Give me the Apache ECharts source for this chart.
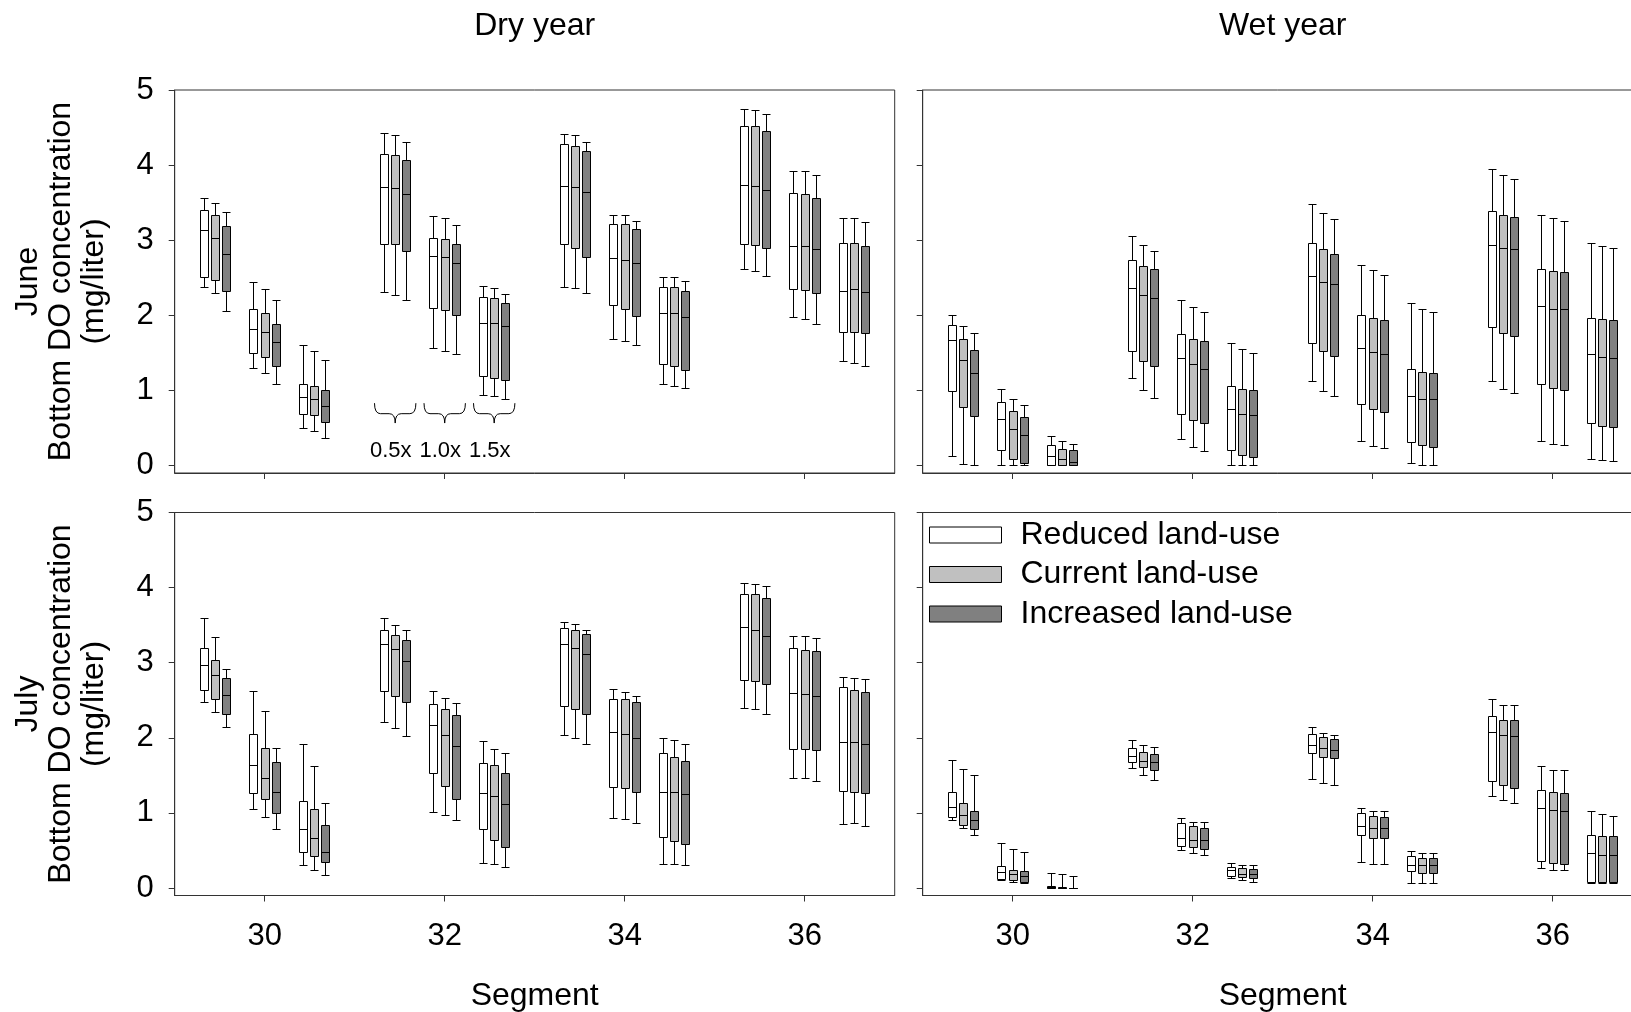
<!DOCTYPE html>
<html>
<head>
<meta charset="utf-8">
<script src="https://cdn.jsdelivr.net/npm/echarts@6/dist/echarts.min.js"></script>
<style>
html,body{margin:0;padding:0;background:#fff;}
#chart{width:1631px;height:1012px;}
</style>
</head>
<body>
<div id="chart"></div>
<script>
// ---------------- DATA ----------------
const seriesNames = ['Reduced land-use', 'Current land-use', 'Increased land-use'];
const xTicks = [30, 32, 34, 36];
const yTicks = [0, 1, 2, 3, 4, 5];
// box-group positions along the Segment axis
const groupX = [29.45, 30, 30.55, 31.45, 32, 32.55, 33.45, 34, 34.55, 35.45, 36, 36.55];
// each box: [upper whisker, Q3, median, Q1, lower whisker]  (mg/liter)
const dryJuneReduced = [
 [3.56,3.40,3.14,2.51,2.38],[2.44,2.08,1.82,1.50,1.30],[1.60,1.08,0.91,0.69,0.50],
 [4.43,4.15,3.71,2.95,2.31],[3.32,3.03,2.79,2.10,1.56],[2.39,2.24,1.90,1.19,0.94],
 [4.42,4.28,3.72,2.95,2.38],[3.33,3.22,2.76,2.14,1.68],[2.51,2.38,2.03,1.35,1.08],
 [4.75,4.52,3.73,2.95,2.62],[3.92,3.63,2.92,2.35,1.98],[3.29,2.96,2.33,1.78,1.39]];
const dryJuneCurrent = [
 [3.50,3.33,3.03,2.47,2.30],[2.35,2.03,1.78,1.44,1.23],[1.52,1.06,0.88,0.67,0.46],
 [4.40,4.14,3.69,2.95,2.27],[3.29,3.01,2.77,2.07,1.53],[2.36,2.23,1.90,1.16,0.92],
 [4.40,4.26,3.71,2.89,2.36],[3.33,3.21,2.74,2.08,1.66],[2.51,2.38,2.03,1.33,1.06],
 [4.74,4.52,3.72,2.94,2.59],[3.92,3.62,2.92,2.34,1.95],[3.29,2.96,2.35,1.78,1.37]];
const dryJuneIncreased = [
 [3.37,3.19,2.82,2.33,2.06],[2.21,1.88,1.65,1.32,1.08],[1.40,1.00,0.79,0.58,0.36],
 [4.31,4.07,3.62,2.86,2.20],[3.20,2.95,2.69,2.01,1.48],[2.29,2.16,1.86,1.14,0.88],
 [4.31,4.19,3.64,2.77,2.30],[3.25,3.15,2.69,1.99,1.61],[2.46,2.32,1.98,1.27,1.03],
 [4.68,4.45,3.67,2.89,2.52],[3.87,3.56,2.88,2.30,1.89],[3.24,2.92,2.31,1.76,1.32]];
const wetJuneReduced = [
 [2.00,1.87,1.67,0.99,0.12],[1.02,0.84,0.62,0.21,0.00],[0.39,0.27,0.13,0.00,0.00],
 [3.06,2.74,2.36,1.53,1.16],[2.20,1.75,1.43,0.69,0.35],[1.63,1.06,0.75,0.20,0.00],
 [3.48,2.96,2.52,1.63,1.12],[2.67,2.01,1.56,0.82,0.32],[2.16,1.28,0.92,0.31,0.03],
 [3.95,3.39,2.93,1.84,1.12],[3.34,2.62,2.12,1.08,0.33],[2.96,1.96,1.48,0.56,0.08]];
const wetJuneCurrent = [
 [1.86,1.68,1.41,0.78,0.02],[0.89,0.72,0.48,0.09,0.00],[0.32,0.22,0.08,0.00,0.00],
 [2.93,2.66,2.27,1.39,1.00],[2.11,1.69,1.35,0.60,0.24],[1.55,1.02,0.69,0.14,0.00],
 [3.36,2.88,2.45,1.52,0.99],[2.60,1.96,1.51,0.75,0.26],[2.09,1.24,0.89,0.27,0.00],
 [3.87,3.34,2.90,1.77,1.02],[3.29,2.59,2.09,1.03,0.28],[2.92,1.95,1.45,0.53,0.07]];
const wetJuneIncreased = [
 [1.77,1.54,1.23,0.66,0.00],[0.80,0.64,0.41,0.03,0.00],[0.29,0.20,0.04,0.00,0.00],
 [2.86,2.61,2.23,1.32,0.90],[2.04,1.66,1.29,0.56,0.19],[1.50,1.00,0.67,0.11,0.00],
 [3.28,2.81,2.42,1.46,0.92],[2.53,1.94,1.49,0.71,0.23],[2.04,1.23,0.88,0.24,0.00],
 [3.81,3.31,2.88,1.73,0.96],[3.26,2.57,2.08,1.00,0.27],[2.89,1.94,1.43,0.51,0.06]];
const dryJulyReduced = [
 [3.59,3.19,2.97,2.63,2.47],[2.62,2.05,1.64,1.27,1.05],[1.92,1.16,0.78,0.48,0.31],
 [3.59,3.43,3.25,2.62,2.21],[2.62,2.45,2.17,1.53,1.01],[1.96,1.67,1.27,0.79,0.33],
 [3.54,3.46,3.25,2.42,2.04],[2.65,2.52,2.08,1.35,0.93],[2.00,1.80,1.28,0.68,0.32],
 [4.06,3.92,3.47,2.77,2.40],[3.36,3.19,2.60,1.85,1.47],[2.81,2.67,1.94,1.29,0.85]];
const dryJulyCurrent = [
 [3.34,3.04,2.84,2.52,2.35],[2.36,1.87,1.46,1.19,0.94],[1.63,1.05,0.66,0.43,0.24],
 [3.50,3.37,3.18,2.56,2.13],[2.53,2.38,2.04,1.36,0.97],[1.85,1.64,1.23,0.64,0.32],
 [3.51,3.44,3.20,2.39,2.00],[2.61,2.51,2.05,1.33,0.92],[1.97,1.75,1.28,0.62,0.32],
 [4.05,3.92,3.43,2.76,2.38],[3.35,3.17,2.58,1.85,1.47],[2.79,2.63,1.95,1.28,0.86]];
const dryJulyIncreased = [
 [2.91,2.80,2.57,2.32,2.14],[1.86,1.68,1.28,1.00,0.79],[1.13,0.84,0.48,0.34,0.17],
 [3.44,3.30,3.02,2.48,2.02],[2.46,2.31,1.89,1.19,0.90],[1.80,1.53,1.12,0.55,0.28],
 [3.44,3.38,3.12,2.32,1.92],[2.56,2.47,2.00,1.28,0.87],[1.92,1.69,1.25,0.58,0.30],
 [4.02,3.86,3.35,2.72,2.32],[3.33,3.15,2.55,1.84,1.43],[2.78,2.61,1.92,1.27,0.83]];
const wetJulyReduced = [
 [1.71,1.28,1.08,0.95,0.91],[0.60,0.29,0.21,0.12,0.11],[0.20,0.02,0.01,0.00,0.00],
 [1.97,1.87,1.76,1.68,1.60],[0.93,0.86,0.67,0.56,0.50],[0.33,0.28,0.24,0.16,0.13],
 [2.14,2.05,1.90,1.80,1.45],[1.07,1.00,0.83,0.70,0.35],[0.49,0.43,0.31,0.22,0.07],
 [2.52,2.29,2.08,1.43,1.23],[1.63,1.31,1.06,0.36,0.26],[1.03,0.71,0.47,0.08,0.07]];
const wetJulyCurrent = [
 [1.59,1.13,0.97,0.84,0.80],[0.52,0.24,0.19,0.11,0.08],[0.18,0.01,0.00,0.00,0.00],
 [1.91,1.81,1.69,1.61,1.51],[0.88,0.82,0.64,0.54,0.46],[0.30,0.26,0.19,0.15,0.11],
 [2.07,2.01,1.86,1.75,1.40],[1.03,0.96,0.80,0.67,0.32],[0.46,0.40,0.31,0.20,0.06],
 [2.44,2.24,2.04,1.37,1.17],[1.57,1.28,1.04,0.33,0.24],[0.98,0.69,0.44,0.08,0.07]];
const wetJulyIncreased = [
 [1.50,1.03,0.91,0.79,0.71],[0.48,0.22,0.16,0.08,0.06],[0.16,0.00,0.00,0.00,0.00],
 [1.88,1.79,1.68,1.57,1.44],[0.88,0.80,0.64,0.52,0.44],[0.30,0.25,0.19,0.13,0.08],
 [2.04,1.99,1.84,1.73,1.37],[1.03,0.94,0.80,0.66,0.32],[0.46,0.40,0.31,0.20,0.06],
 [2.44,2.24,2.03,1.33,1.13],[1.57,1.27,1.03,0.32,0.24],[0.96,0.69,0.44,0.08,0.07]];
// nutrient-load annotation (dry June panel)
const braceX = [31.45, 32, 32.55];
const braceLabels = ['0.5x', '1.0x', '1.5x'];

// ---------------- STYLE / LAYOUT ----------------
const FONT = '"Liberation Sans", Arial, Helvetica, sans-serif';
const fills = ['#ffffff', '#c0c0c0', '#808080'];
const typeOffset = [-0.125, 0, 0.125];
const BOX_W = 0.096;
const AXIS_COLOR = '#333';
const GW = 720, GH = 383;
const panels = [
  {left: 174.7, top: 90,    data: [dryJuneReduced, dryJuneCurrent, dryJuneIncreased], xl: false, yl: true},
  {left: 922.7, top: 90,    data: [wetJuneReduced, wetJuneCurrent, wetJuneIncreased], xl: false, yl: false},
  {left: 174.7, top: 512.5, data: [dryJulyReduced, dryJulyCurrent, dryJulyIncreased], xl: true,  yl: true},
  {left: 922.7, top: 512.5, data: [wetJulyReduced, wetJulyCurrent, wetJulyIncreased], xl: true,  yl: false}
];

const chart = echarts.init(document.getElementById('chart'), null, {renderer: 'canvas'});

function makeBoxRender(fill) {
  return function (params, api) {
    const x = api.value(0);
    const c = v => api.coord([x, v]);
    const pHi = c(api.value(1)), pQ3 = c(api.value(2)), pMed = c(api.value(3)),
          pQ1 = c(api.value(4)), pLo = c(api.value(5));
    const w = api.size([BOX_W, 0])[0];
    const cx = Math.round(pHi[0]) + 0.5;
    const hw = Math.round(w / 2);
    const s = y => Math.round(y) + 0.5;
    const yHi = s(pHi[1]), yQ3 = s(pQ3[1]), yMed = s(pMed[1]), yQ1 = s(pQ1[1]), yLo = s(pLo[1]);
    const line = (x1, y1, x2, y2) => ({type: 'line', shape: {x1, y1, x2, y2}, style: {stroke: '#000', lineWidth: 1}});
    return {type: 'group', children: [
      line(cx, yHi, cx, yQ3), line(cx - hw, yHi, cx + hw, yHi),
      line(cx, yQ1, cx, yLo), line(cx - hw, yLo, cx + hw, yLo),
      {type: 'rect', shape: {x: cx - hw, y: yQ3, width: 2 * hw, height: yQ1 - yQ3},
       style: {fill: fill, stroke: '#000', lineWidth: 1}},
      line(cx - hw, yMed, cx + hw, yMed)
    ]};
  };
}

function braceRender(params, api) {
  const x = api.value(0);
  const pt = api.coord([x, 0.83]);
  const pm = api.coord([x, 0.69]);
  const pb = api.coord([x, 0.565]);
  const pl = api.coord([x - 0.05, 0.19]);
  const half = api.size([0.23, 0])[0];
  const xc = pt[0], xl = xc - half, xr = xc + half;
  const yt = pt[1], ym = pm[1], yb = pb[1], r = 6;
  const d = 'M' + xl + ' ' + yt + ' Q' + xl + ' ' + ym + ' ' + (xl + r) + ' ' + ym +
            ' L' + (xc - r) + ' ' + ym + ' Q' + xc + ' ' + ym + ' ' + xc + ' ' + yb +
            ' Q' + xc + ' ' + ym + ' ' + (xc + r) + ' ' + ym +
            ' L' + (xr - r) + ' ' + ym + ' Q' + xr + ' ' + ym + ' ' + xr + ' ' + yt;
  return {type: 'group', children: [
    {type: 'path', shape: {pathData: d}, style: {fill: null, stroke: '#000', lineWidth: 1}},
    {type: 'text', style: {text: braceLabels[params.dataIndex], x: pl[0], y: pl[1],
      textAlign: 'center', textVerticalAlign: 'middle', fontSize: 22, fontFamily: FONT, fill: '#000'}}
  ]};
}

const grids = [], xAxes = [], yAxes = [], series = [];
panels.forEach((p, pi) => {
  grids.push({left: p.left, top: p.top, width: GW, height: GH, show: true,
    borderColor: AXIS_COLOR, borderWidth: 1, backgroundColor: 'transparent',
    containLabel: false, outerBoundsMode: 'none'});
  xAxes.push({gridIndex: pi, type: 'value', min: 29, max: 37,
    axisLine: {show: true, onZero: false, lineStyle: {color: AXIS_COLOR, width: 1}},
    axisTick: {show: true, inside: false, length: 6, customValues: xTicks, lineStyle: {color: AXIS_COLOR}},
    axisLabel: {show: p.xl, customValues: xTicks, fontSize: 31, fontFamily: FONT, color: '#000', margin: 25},
    splitLine: {show: false}});
  yAxes.push({gridIndex: pi, type: 'value', min: -0.1, max: 5,
    axisLine: {show: true, onZero: false, lineStyle: {color: AXIS_COLOR, width: 1}},
    axisTick: {show: true, inside: false, length: 6, customValues: yTicks, lineStyle: {color: AXIS_COLOR}},
    axisLabel: {show: p.yl, customValues: yTicks, fontSize: 31, fontFamily: FONT, color: '#000', margin: 21},
    splitLine: {show: false}});
  p.data.forEach((vals, t) => {
    series.push({
      type: 'custom', name: seriesNames[t], xAxisIndex: pi, yAxisIndex: pi,
      itemStyle: {color: fills[t], borderColor: '#000', borderWidth: 1},
      renderItem: makeBoxRender(fills[t]),
      encode: {x: 0, y: [1, 2, 3, 4, 5]},
      data: vals.map((v, i) => [groupX[i] + typeOffset[t]].concat(v)),
      silent: true, clip: false
    });
  });
});
series.push({type: 'custom', xAxisIndex: 0, yAxisIndex: 0, silent: true,
  renderItem: braceRender, encode: {x: 0, y: 1},
  data: braceX.map(x => [x, 0.83])});

const txt = (text, x, y, extra) => Object.assign({type: 'text', x: x, y: y, silent: true,
  style: {text: text, textAlign: 'center', textVerticalAlign: 'middle', fontSize: 32,
    fontFamily: FONT, fill: '#000', lineHeight: 33}}, extra || {});

const graphics = [
  txt('Dry year', 174.7 + GW / 2, 26),
  txt('Wet year', 922.7 + GW / 2, 26),
  txt('Segment', 174.7 + GW / 2, 996),
  txt('Segment', 922.7 + GW / 2, 996),
  txt('June\nBottom DO concentration\n(mg/liter)', 61, 90 + GH / 2, {rotation: Math.PI / 2}),
  txt('July\nBottom DO concentration\n(mg/liter)', 61, 512.5 + GH / 2, {rotation: Math.PI / 2})
];

chart.setOption({
  backgroundColor: '#fff',
  animation: false,
  grid: grids,
  xAxis: xAxes,
  yAxis: yAxes,
  legend: {
    show: true, orient: 'vertical', left: 924, top: 514, icon: 'rect',
    itemWidth: 72, itemHeight: 16, itemGap: 7.5, selectedMode: false,
    textStyle: {fontSize: 32, fontFamily: FONT, color: '#000', lineHeight: 32, padding: [0, 0, 0, 14]},
    data: seriesNames.map((n, i) => ({name: n, itemStyle: {color: fills[i], borderColor: '#000', borderWidth: 1}}))
  },
  graphic: graphics,
  series: series
});
</script>
</body>
</html>
